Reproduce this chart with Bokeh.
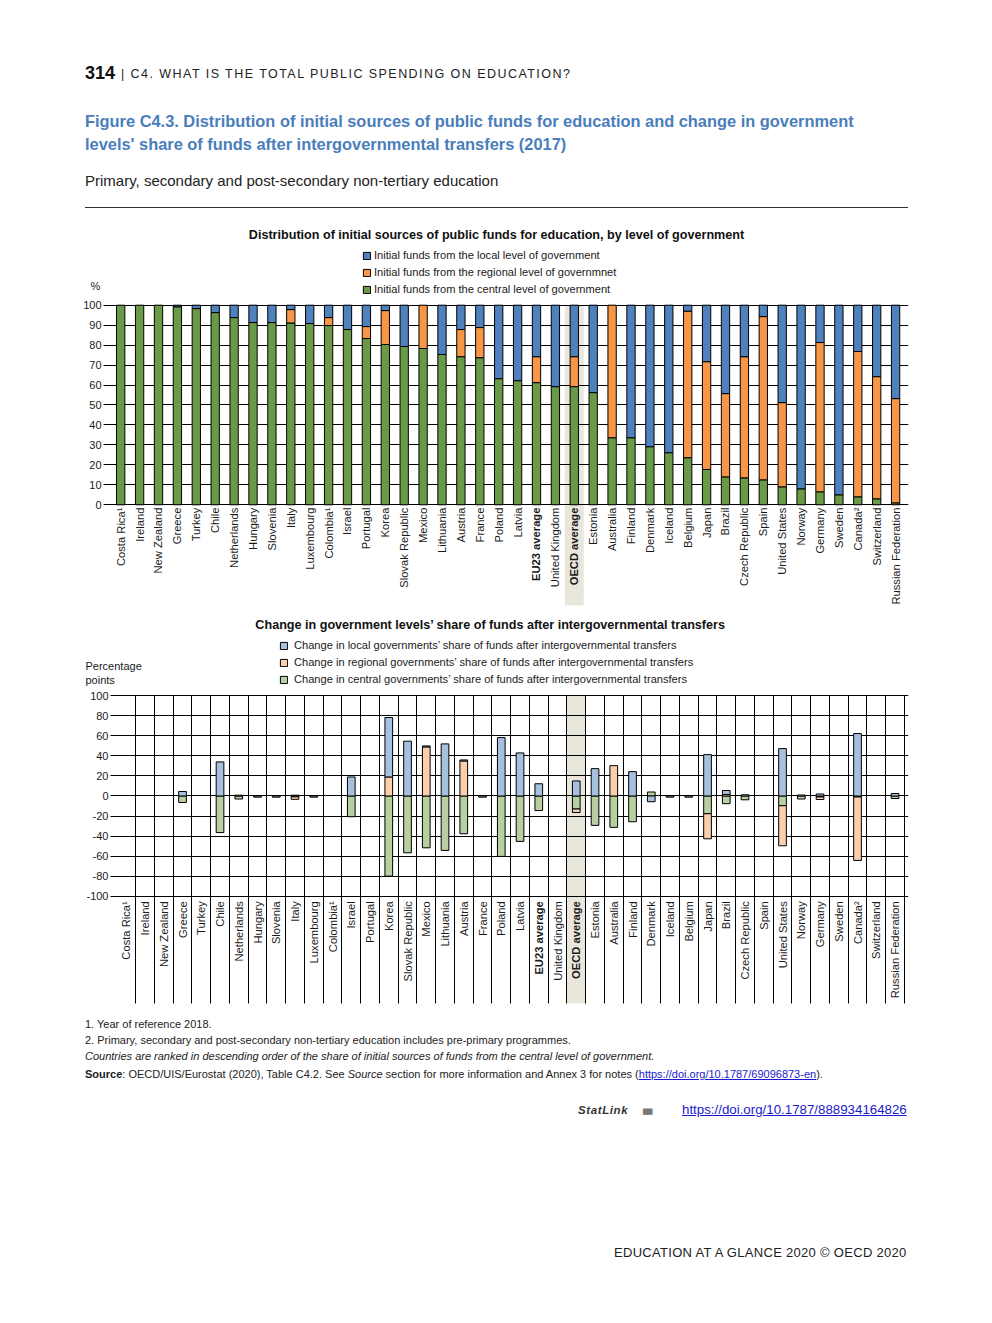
import math
from bokeh.plotting import figure
from bokeh.models import (ColumnDataSource, FixedTicker, Grid, Legend, LegendItem,
                          Label, Div, Range1d)
from bokeh.layouts import column
from bokeh.embed import file_html
from bokeh.resources import INLINE
from bokeh.core.properties import value

# ---------------- data ----------------
countries = ["Costa Rica¹", "Ireland", "New Zealand", "Greece", "Turkey", "Chile",
             "Netherlands", "Hungary", "Slovenia", "Italy", "Luxembourg", "Colombia¹",
             "Israel", "Portugal", "Korea", "Slovak Republic", "Mexico", "Lithuania",
             "Austria", "France", "Poland", "Latvia", "EU23 average", "United Kingdom",
             "OECD average", "Estonia", "Australia", "Finland", "Denmark", "Iceland",
             "Belgium", "Japan", "Brazil", "Czech Republic", "Spain", "United States",
             "Norway", "Germany", "Sweden", "Canada²", "Switzerland", "Russian Federation"]
bold_labels = ["EU23 average", "OECD average"]
highlight = "OECD average"

# initial sources of public funds (%)
central_initial = [100, 100, 100, 99.2, 98.3, 96.3, 93.8, 91.3, 91.3, 91.1, 90.8, 89.8,
                   87.8, 83.3, 80.3, 79.3, 78.3, 75.3, 74.2, 73.7, 63.2, 62.2, 61.2, 59.2,
                   59.2, 56.2, 33.6, 33.6, 29.1, 26.1, 23.6, 17.7, 14.0, 13.5, 12.5, 9.0,
                   8.0, 6.5, 5.0, 4.0, 3.0, 1.0]
regional_initial = [0, 0, 0, 0, 0, 0, 0, 0, 0, 6.7, 0, 4.0,
                    0, 6.0, 17.0, 0, 21.7, 0, 13.6, 15.1, 0, 0, 13.0, 0,
                    15.0, 0, 66.4, 0, 0, 0, 73.4, 54.0, 41.7, 60.7, 81.8, 42.2,
                    0, 74.8, 0, 72.8, 61.2, 52.2]
local_initial = [0, 0, 0, 0.8, 1.7, 3.7, 6.2, 8.7, 8.7, 2.2, 9.2, 6.2,
                 12.2, 10.7, 2.7, 20.7, 0, 24.7, 12.2, 11.2, 36.8, 37.8, 25.8, 40.8,
                 25.8, 43.8, 0, 66.4, 70.9, 73.9, 3.0, 28.3, 44.3, 25.8, 5.7, 48.8,
                 92.0, 18.7, 95.0, 23.2, 35.8, 46.8]

# change in share after intergovernmental transfers (percentage points)
N = None
local_change = [N, N, N, 4.5, N, 34.0, 0.8, N, N, 0.8, N, N,
                19.0, N, 59.3, 54.7, 1.0, 52.0, 1.0, N, 58.3, 43.0, 12.2, N,
                15.0, 27.3, N, 24.3, -5.7, N, N, 41.3, 4.0, 1.2, N, 47.3,
                1.0, 2.0, N, 62.3, N, 2.5]
regional_change = [N, N, N, N, N, N, N, N, N, -2.5, N, N,
                   N, N, 19.0, N, 49.0, N, 35.0, N, N, N, N, N,
                   -3.5, N, 30.3, N, N, N, N, -25.0, 1.5, N, N, -40.0,
                   N, -2.5, N, -63.3, N, N]
central_change = [N, N, N, -6.5, N, -36.5, -3.0, -1.2, -1.2, -0.8, -1.2, N,
                  -20.7, N, -80.0, -56.7, -51.7, -54.3, -37.7, -1.2, -60.3, -45.3, -14.5, N,
                  -13.0, -29.3, -31.3, -25.7, 4.0, -1.2, -1.2, -17.7, -7.7, -3.8, N, -9.7,
                  -3.0, -1.0, N, -1.0, N, -2.5]

top_ticks = list(range(0, 101, 10))
bottom_ticks = list(range(-100, 101, 20))

# ---------------- helpers ----------------
SANS = "Liberation Sans"
n = len(countries)
X = [i + 0.5 for i in range(n)]
hi = countries.index(highlight)
HAS_CB = "cross_bounds" in Grid.properties()


def stacked(series_list):
    pos = [0.0] * n
    neg = [0.0] * n
    out = []
    for vals in series_list:
        xs, bs, ts = [], [], []
        for i, v in enumerate(vals):
            if v is None or v == 0:
                continue
            if v > 0:
                b = pos[i]; t = b + v; pos[i] = t
            else:
                t = neg[i]; b = t + v; neg[i] = b
            xs.append(X[i]); bs.append(b); ts.append(t)
        out.append(ColumnDataSource(dict(x=xs, bottom=bs, top=ts)))
    return out


def label_source(y):
    return ColumnDataSource(dict(
        x=X, y=[y] * n, text=countries,
        style=["bold" if c in bold_labels else "normal" for c in countries]))


def add_grid(p, dim, ticks, cross):
    if HAS_CB:
        g = Grid(dimension=dim, ticker=FixedTicker(ticks=ticks),
                 grid_line_color="black", grid_line_width=1)
        g.cross_bounds = cross
        p.add_layout(g)
    else:
        if dim == 1:
            p.segment(x0=[cross[0]] * len(ticks), x1=[cross[1]] * len(ticks),
                      y0=ticks, y1=ticks, line_color="black", line_width=1, level="underlay")
        else:
            p.segment(y0=[cross[0]] * len(ticks), y1=[cross[1]] * len(ticks),
                      x0=ticks, x1=ticks, line_color="black", line_width=1, level="underlay")


def base_fig(height, x0, x1, y0, y1, axis_x, ticks):
    p = figure(width=992, height=height, output_backend="svg", toolbar_location=None,
               x_range=Range1d(x0, x1), y_range=Range1d(y0, y1),
               min_border_left=80, min_border_right=84, min_border_top=0,
               min_border_bottom=0, x_axis_location=None)
    p.outline_line_color = None
    p.background_fill_color = "white"
    p.border_fill_color = "white"
    p.xgrid.visible = False
    p.ygrid.visible = False
    ax = p.yaxis[0]
    ax.ticker = FixedTicker(ticks=ticks)
    ax.major_label_overrides = {t: str(t) for t in ticks}
    ax.fixed_location = axis_x
    ax.axis_line_color = None
    ax.major_tick_line_color = None
    ax.minor_tick_line_color = None
    ax.major_tick_out = 0
    ax.major_tick_in = 0
    ax.major_label_standoff = 2
    ax.major_label_text_font = SANS
    ax.major_label_text_font_size = "11px"
    ax.major_label_text_color = "#1a1a1a"
    add_grid(p, 1, ticks, (axis_x, x1))
    return p


def make_legend(p, items, loc, standoff):
    lg = Legend(items=items, location=loc, orientation="vertical",
                glyph_width=9, glyph_height=9, label_standoff=standoff,
                padding=0, margin=0, spacing=1, label_height=16,
                border_line_color=None, background_fill_alpha=0,
                label_text_font=SANS, label_text_font_size="11.1px",
                label_text_color="#1a1a1a")
    p.add_layout(lg)


def screen_label(p, x, y, text, size, bold=False, align="left"):
    p.add_layout(Label(x=x, y=y, x_units="screen", y_units="screen", text=text,
                       text_align=align, text_baseline="middle", text_font=SANS,
                       text_font_size=size, text_font_style="bold" if bold else "normal",
                       text_color="#111111" if bold else "#1a1a1a"))


# ---------------- top chart (page y 212..612) ----------------
p1 = base_fig(400, -1.627, 42.183, -53.96, 146.44, -0.41, top_ticks)
p1.quad(left=[hi], right=[hi + 1], bottom=[-50.5], top=[100],
        fill_color="#e9e6dc", line_color=None, level="image")

top_colors = ["#6a9a48", "#f79646", "#4f81bd"]
srcs1 = stacked([central_initial, regional_initial, local_initial])
r1 = [p1.vbar(x="x", bottom="bottom", top="top", width=0.44, source=s,
              fill_color=c, line_color="black", line_width=1)
      for s, c in zip(srcs1, top_colors)]
p1.text(x="x", y="y", text="text", source=label_source(-1.4), angle=math.pi / 2,
        text_align="right", text_baseline="middle", text_font=value(SANS),
        text_font_size="11.2px", text_font_style="style", text_color="#1a1a1a")

make_legend(p1, [
    LegendItem(label="Initial funds from the local level of government", renderers=[r1[2]]),
    LegendItem(label="Initial funds from the regional level of governmnet", renderers=[r1[1]]),
    LegendItem(label="Initial funds from the central level of government", renderers=[r1[0]]),
], (282, 315), 3)

screen_label(p1, 416, 378, "Distribution of initial sources of public funds for education, by level of government",
             "12.6px", bold=True, align="center")
screen_label(p1, 10, 327, "%", "11px")

# ---------------- bottom chart (page y 612..1008) ----------------
p2 = base_fig(396, -1.941, 42.219, -212.08, 183.13, -0.341, bottom_ticks)
p2.quad(left=[hi], right=[hi + 1], bottom=[-207.1], top=[100],
        fill_color="#e9e6dc", line_color=None, level="image")
add_grid(p2, 0, list(range(1, n + 1)), (-207.1, 100))

bot_colors = ["#b8cfa2", "#fbcfac", "#a7c0de"]
srcs2 = stacked([central_change, regional_change, local_change])
r2 = [p2.vbar(x="x", bottom="bottom", top="top", width=0.41, source=s,
              fill_color=c, line_color="black", line_width=1)
      for s, c in zip(srcs2, bot_colors)]
p2.text(x="x", y="y", text="text", source=label_source(-105), angle=math.pi / 2,
        text_align="right", text_baseline="middle", text_font=value(SANS),
        text_font_size="11.2px", text_font_style="style", text_color="#1a1a1a")

make_legend(p2, [
    LegendItem(label="Change in local governments’ share of funds after intergovernmental transfers", renderers=[r2[2]]),
    LegendItem(label="Change in regional governments’ share of funds after intergovernmental transfers", renderers=[r2[1]]),
    LegendItem(label="Change in central governments’ share of funds after intergovernmental transfers", renderers=[r2[0]]),
], (199, 321), 6)

screen_label(p2, 410, 384, "Change in government levels’ share of funds after intergovernmental transfers",
             "12.6px", bold=True, align="center")
screen_label(p2, 5, 343, "Percentage", "11px")
screen_label(p2, 5, 329, "points", "11px")

# ---------------- header / footer ----------------
FS = "'Liberation Sans',Arial,sans-serif"


def item(x, cy, html, size, extra="", div_top=0, lh=None):
    lh = lh or round(size * 1.3)
    top = cy - div_top - lh / 2
    return (f'<div style="position:absolute;left:{x}px;top:{top}px;font-family:{FS};'
            f'font-size:{size}px;line-height:{lh}px;white-space:nowrap;{extra}">{html}</div>')


hdr = [
    item(85, 73, "314", 18, "font-weight:bold;color:#111"),
    item(121, 74, "| C4. WHAT IS THE TOTAL PUBLIC SPENDING ON EDUCATION?", 12.5,
         "letter-spacing:1.45px;color:#222"),
    item(85, 121, "Figure C4.3. Distribution of initial sources of public funds for education and change in government",
         16.4, "font-weight:bold;color:#4a7ebb"),
    item(85, 144, "levels' share of funds after intergovernmental transfers (2017)",
         16.4, "font-weight:bold;color:#4a7ebb"),
    item(85, 181, "Primary, secondary and post-secondary non-tertiary education", 15, "color:#222"),
    '<div style="position:absolute;left:85px;top:207px;width:823px;height:0;border-top:1px solid #333"></div>',
]
header = Div(text='<div style="position:relative;width:992px;height:212px">' + "".join(hdr) + "</div>",
             width=992, height=212, margin=(0, 0, 0, 0))

D = 1008
link = "color:#1a1acc;text-decoration:underline"
ftr = [
    item(85, 1024, "1. Year of reference 2018.", 11, "color:#222", D),
    item(85, 1040, "2. Primary, secondary and post-secondary non-tertiary education includes pre-primary programmes.",
         11, "color:#222", D),
    item(85, 1056, "Countries are ranked in descending order of the share of initial sources of funds from the central level of government.",
         11, "color:#222;font-style:italic", D),
    item(85, 1074, '<b>Source</b>: OECD/UIS/Eurostat (2020), Table C4.2. See <i>Source</i> section for more information and Annex 3 for notes (<span style="' + link + '">https://doi.org/10.1787/69096873-en</span>).',
         11, "color:#222", D),
    item(578, 1110, "StatLink", 11.5, "font-weight:bold;font-style:italic;letter-spacing:0.6px;color:#333", D),
    item(643, 1110, "▆▆", 7, "color:#777;letter-spacing:-1px", D),
    item(682, 1109, "https://doi.org/10.1787/888934164826", 13.3, link, D),
    item(614, 1252, "EDUCATION AT A GLANCE 2020 © OECD 2020", 13, "color:#222;letter-spacing:0.3px", D),
]
footer = Div(text='<div style="position:relative;width:992px;height:300px">' + "".join(ftr) + "</div>",
             width=992, height=300, margin=(0, 0, 0, 0))

layout = column(header, p1, p2, footer, spacing=0)
open("out.html", "w").write(file_html(layout, INLINE))
